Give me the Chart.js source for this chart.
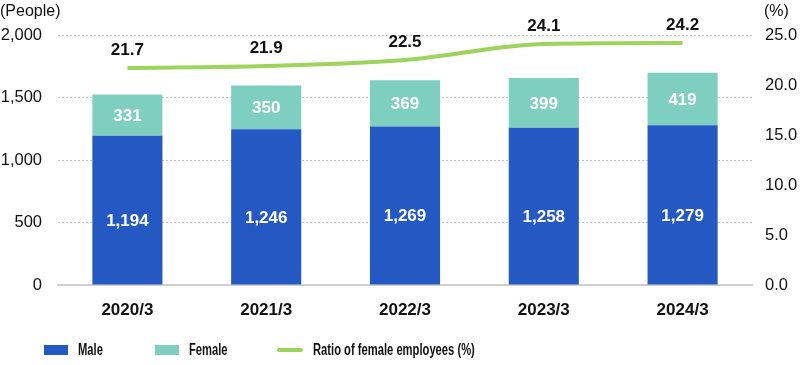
<!DOCTYPE html>
<html>
<head>
<meta charset="utf-8">
<script src="https://cdn.jsdelivr.net/npm/chart.js@4"></script>
<style>
  body { margin: 0; background: #fff; font-family: "Liberation Sans", Arial, sans-serif; }
  #wrap { position: relative; width: 800px; height: 365px; }
  .unit { position: absolute; top: 2px; font-size: 16px; color: #111; }
  .legend { position: absolute; top: 341px; font-size: 16px; font-weight: bold; color: #111; display: flex; align-items: center; white-space: nowrap; }
  .legend span.sw { display: inline-block; margin-right: 10px; }
  .legend span.tx { display: inline-block; transform: scaleX(0.7); transform-origin: left center; }
</style>
</head>
<body>
<div id="wrap">
  <canvas id="bar_chart" width="800" height="365"></canvas>
  <div class="unit" style="left:0px">(People)</div>
  <div class="unit" style="left:764px">(%)</div>
  <div class="legend" style="left:44px"><span class="sw" style="width:24px;height:10px;background:#2459C4"></span><span class="tx">Male</span></div>
  <div class="legend" style="left:155px"><span class="sw" style="width:24px;height:10px;background:#7ECFC0"></span><span class="tx">Female</span></div>
  <div class="legend" style="left:277px"><span class="sw" style="width:26px;height:4px;border-radius:2px;background:#9CD45C"></span><span class="tx">Ratio of female employees (%)</span></div>
</div>
<script>
const ctx = document.querySelector('#bar_chart')

const years = ["2020/3", "2021/3", "2022/3", "2023/3", "2024/3"];
const male = [1194, 1246, 1269, 1258, 1279];
const female = [331, 350, 369, 399, 419];
const ratio = [21.7, 21.9, 22.5, 24.1, 24.2];

const fmt = v => v.toLocaleString('en-US')

// value labels on bars and line
const labels = {
    id: 'labels',
    afterDatasetsDraw(chart) {
        const c = chart.ctx
        c.save()
        c.textAlign = 'center'
        c.textBaseline = 'middle'
        c.font = 'bold 17px "Liberation Sans", Arial'
        c.fillStyle = '#fff'
        chart.getDatasetMeta(1).data.forEach((b, i) => {
            c.fillText(fmt(male[i]), b.x, (b.y + b.base) / 2 + 11)
        })
        chart.getDatasetMeta(2).data.forEach((b, i) => {
            c.fillText(fmt(female[i]), b.x, (b.y + b.base) / 2 + 1)
        })
        c.fillStyle = '#111'
        chart.getDatasetMeta(0).data.forEach((p, i) => {
            c.fillText(ratio[i].toFixed(1), p.x, p.y - 18)
        })
        c.restore()
    }
}

const data = {
    labels: years,
    datasets: [
        {
            type: 'line',
            data: ratio,
            yAxisID: 'y1',
            borderColor: '#9CD45C',
            borderWidth: 4,
            backgroundColor: 'transparent',
            pointRadius: 0,
            cubicInterpolationMode: 'monotone',
            order: 0
        },
        {
            data: male,
            backgroundColor: '#2459C4',
            stack: 's',
            order: 1
        },
        {
            data: female,
            backgroundColor: '#7ECFC0',
            stack: 's',
            order: 1
        }
    ]
};

const options = {
    responsive: false,
    animation: false,
    layout: { padding: { top: 35, bottom: 45 } },
    datasets: { bar: { barPercentage: 0.505, categoryPercentage: 1 } },
    plugins: {
        legend: false,
        tooltip: false
    },
    scales: {
        x: {
            stacked: true,
            grid: { display: false },
            border: { color: '#d0d0d0', width: 2 },
            ticks: { color: '#111', font: { size: 17, weight: 'bold', family: '"Liberation Sans", Arial' }, padding: 7 },
            afterFit: s => { s.height = 35 }
        },
        y: {
            stacked: true,
            min: 0,
            max: 2000,
            border: { display: false, dash: [2, 2] },
            grid: {
                color: c => c.tick.value === 0 ? 'transparent' : '#c4c4c4',
                lineWidth: 1,
                drawTicks: false
            },
            ticks: {
                stepSize: 500,
                padding: 16,
                color: '#111',
                font: { size: 16.5, family: '"Liberation Sans", Arial' },
                callback: v => fmt(v)
            },
            afterFit: s => { s.width = 58 }
        },
        y1: {
            position: 'right',
            min: 0,
            max: 25,
            border: { display: false },
            grid: { display: false, drawTicks: false },
            ticks: {
                stepSize: 5,
                padding: 13,
                color: '#111',
                font: { size: 16.5, family: '"Liberation Sans", Arial' },
                callback: v => v.toFixed(1)
            },
            afterFit: s => { s.width = 48 }
        }
    }
}

new Chart(ctx, {
    type: 'bar',
    data: data,
    options: options,
    plugins: [labels]
})
</script>
</body>
</html>
